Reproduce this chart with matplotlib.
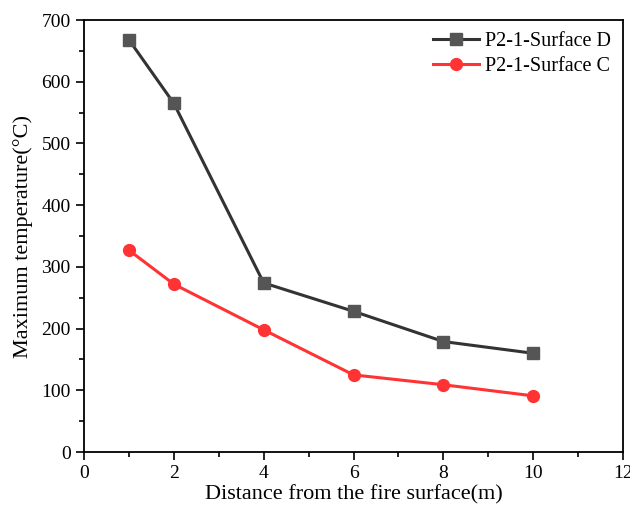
import matplotlib

matplotlib.use("Agg")

import matplotlib.pyplot as plt
from matplotlib.ticker import MultipleLocator

# distance from the fire surface (m)
distance = [1, 2, 4, 6, 8, 10]
# maximum temperature (deg C)
temp_d = [668, 565, 274, 228, 179, 160]
temp_c = [327, 272, 198, 125, 109, 91]

labels = ["P2-1-Surface D", "P2-1-Surface C"]

plt.rcParams["font.family"] = ["Liberation Serif", "DejaVu Serif"]

fig = plt.figure(figsize=(6.3, 5.08), dpi=100)
ax = fig.add_axes([0.1333, 0.1102, 0.8557, 0.8504])

ax.plot(distance, temp_d, color="#333333", lw=2.2, marker="s", ms=8.5,
        mfc="#555555", mec="#555555", label=labels[0])
ax.plot(distance, temp_c, color="#ff3333", lw=2.2, marker="o", ms=8.5,
        mfc="#ff3333", mec="#ff3333", label=labels[1])

ax.set_xlim(0, 12)
ax.set_ylim(0, 700)
ax.xaxis.set_major_locator(MultipleLocator(2))
ax.xaxis.set_minor_locator(MultipleLocator(1))
ax.yaxis.set_major_locator(MultipleLocator(100))
ax.yaxis.set_minor_locator(MultipleLocator(50))
ax.tick_params(which="both", direction="out", top=False, right=False,
               labelsize=14, width=1.2)
ax.tick_params(which="major", length=6)
ax.tick_params(which="minor", length=3.5)
for s in ax.spines.values():
    s.set_linewidth(1.3)

ax.set_xlabel("Distance from the fire surface(m)", fontsize=16, labelpad=2)
ax.set_ylabel("Maximum temperature(\u00b0C)", fontsize=16, labelpad=6)

leg = ax.legend(loc="upper right", frameon=False, fontsize=14.5,
                handlelength=2.3, handletextpad=0.3, borderaxespad=0.2,
                labelspacing=0.3)

fig.savefig("out.png", dpi=100)
